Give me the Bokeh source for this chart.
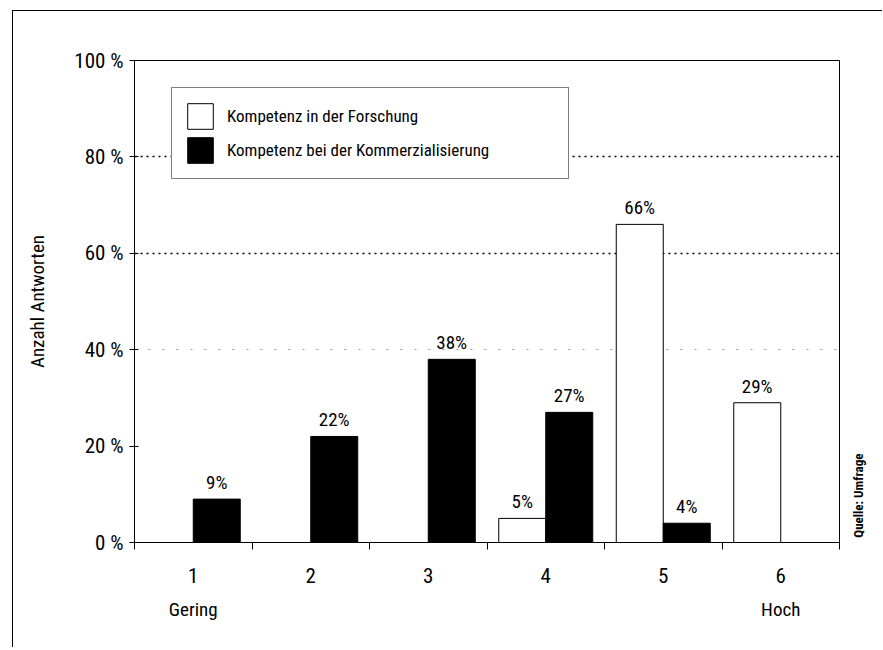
import math
from bokeh.plotting import figure
from bokeh.layouts import column
from bokeh.models import (ColumnDataSource, FixedTicker, Legend, LegendItem,
                          Grid, LinearAxis, Range1d)
from bokeh.embed import file_html
from bokeh.resources import INLINE
from bokeh.core.properties import value

# ---- data ----
categories = [1, 2, 3, 4, 5, 6]
forschung = [0, 0, 0, 5, 66, 29]
kommerzialisierung = [9, 22, 38, 27, 4, 0]
y_ticks = [0, 20, 40, 60, 80, 100]
y_tick_labels = ["0 %", "20 %", "40 %", "60 %", "80 %", "100 %"]
x_tick_labels = ["1", "2", "3", "4", "5", "6"]
series_names = ["Kompetenz in der Forschung", "Kompetenz bei der Kommerzialisierung"]
scale_ends = {1: "Gering", 6: "Hoch"}
y_title = "Anzahl Antworten"
source_note = "Quelle: Umfrage"

FONT = "'Liberation Sans Narrow', 'Arial Narrow', 'Roboto Condensed', 'Liberation Sans', sans-serif"

# page offset of the figure inside the outer frame
OX, OY = 12, 10
W, H = 869, 636
F_LEFT, F_RIGHT, F_TOP, F_BOTTOM = 133 - OX, 838 - OX, 59 - OY, 541 - OY

p = figure(width=W, height=H, output_backend="svg", toolbar_location=None,
           x_range=Range1d(0.5, 6.5), y_range=Range1d(0, 100),
           min_border_left=F_LEFT, min_border_right=W - F_RIGHT,
           min_border_top=F_TOP, min_border_bottom=H - F_BOTTOM)
p.background_fill_color = "white"
p.border_fill_color = "white"
p.outline_line_color = "black"
p.outline_line_width = 1
p.outline_line_alpha = 1

off = 0.2
bw = 0.4
src_f = ColumnDataSource(dict(x=[c - off for c in categories], top=forschung))
src_k = ColumnDataSource(dict(x=[c + off for c in categories], top=kommerzialisierung))

r_f = p.vbar(x="x", top="top", width=bw, source=src_f, fill_color="white",
             line_color="black", line_width=1)
r_k = p.vbar(x="x", top="top", width=bw, source=src_k, fill_color="black",
             line_color="black", line_width=1)

# value labels (non-zero only)
lx, ly, lt = [], [], []
for c, v in zip(categories, forschung):
    if v:
        lx.append(c - off); ly.append(v); lt.append(f"{v}%")
for c, v in zip(categories, kommerzialisierung):
    if v:
        lx.append(c + off); ly.append(v); lt.append(f"{v}%")
p.text(x=lx, y=ly, text=lt, text_align="center", text_baseline="bottom", y_offset=-5,
       text_font=value(FONT), text_font_size="19px", text_color="black")

# x axis: ticks at category borders, labels at centres
xa = p.xaxis[0]
xa.ticker = FixedTicker(ticks=categories,
                        minor_ticks=[c - 0.5 for c in categories] + [categories[-1] + 0.5])
xa.major_label_overrides = {c: t for c, t in zip(categories, x_tick_labels)}
xa.major_tick_out = 0
xa.major_tick_in = 0
xa.minor_tick_out = 7
xa.minor_tick_in = 0
xa.minor_tick_line_color = "black"
xa.major_label_standoff = 18
xa.major_label_text_font = FONT
xa.major_label_text_font_size = "21px"
xa.major_label_text_color = "black"
xa.axis_line_color = "black"

# second bottom axis: scale end words
xa2 = LinearAxis(ticker=FixedTicker(ticks=list(scale_ends.keys())),
                 major_label_overrides=scale_ends,
                 axis_line_color=None, major_tick_line_color=None,
                 minor_tick_line_color=None, major_label_standoff=6,
                 major_label_text_font=FONT, major_label_text_font_size="19px",
                 major_label_text_color="black")
p.add_layout(xa2, "below")

# y axis
ya = p.yaxis[0]
ya.ticker = FixedTicker(ticks=y_ticks)
ya.major_label_overrides = {t: l for t, l in zip(y_ticks, y_tick_labels)}
ya.major_tick_out = 5
ya.major_tick_in = 4
ya.minor_tick_line_color = None
ya.major_tick_line_color = "black"
ya.major_label_standoff = 6
ya.major_label_text_font = FONT
ya.major_label_text_font_size = "21px"
ya.major_label_text_color = "black"
ya.axis_line_color = "black"
ya.axis_label = y_title
ya.axis_label_standoff = 22
ya.axis_label_text_font = FONT
ya.axis_label_text_font_size = "19px"
ya.axis_label_text_font_style = "normal"
ya.axis_label_text_color = "black"

# right axis: source note
ra = LinearAxis(ticker=FixedTicker(ticks=[1]), major_label_overrides={1: source_note},
                axis_line_color=None, major_tick_line_color=None,
                minor_tick_line_color=None, major_label_standoff=13,
                major_label_orientation=math.pi / 2,
                major_label_text_font=FONT, major_label_text_font_size="13px",
                major_label_text_font_style="bold", major_label_text_color="black")
p.add_layout(ra, "right")

# grids
p.xgrid.visible = False
p.ygrid.ticker = FixedTicker(ticks=[60, 80])
p.ygrid.grid_line_color = "black"
p.ygrid.grid_line_dash = "2 4"
p.ygrid.grid_line_width = 1.6
g40 = Grid(dimension=1, ticker=FixedTicker(ticks=[40]), grid_line_color="#999999",
           grid_line_dash="2 12", grid_line_width=1)
p.add_layout(g40)

# legend
legend = Legend(items=[LegendItem(label=series_names[0], renderers=[r_f]),
                       LegendItem(label=series_names[1], renderers=[r_k])],
                location=(37, 363), margin=0, padding=12, spacing=2,
                glyph_width=32, glyph_height=32, label_height=32, label_width=329,
                label_standoff=11, label_text_font=FONT, label_text_font_size="17px",
                label_text_color="black", border_line_color="black", border_line_width=1,
                background_fill_color="white", background_fill_alpha=1)
p.add_layout(legend)

layout = column(p, margin=(OY, 0, 0, OX),
                styles={"border-left": "1.5px solid black", "border-top": "1.5px solid black"})

open("out.html", "w").write(file_html(layout, INLINE))
